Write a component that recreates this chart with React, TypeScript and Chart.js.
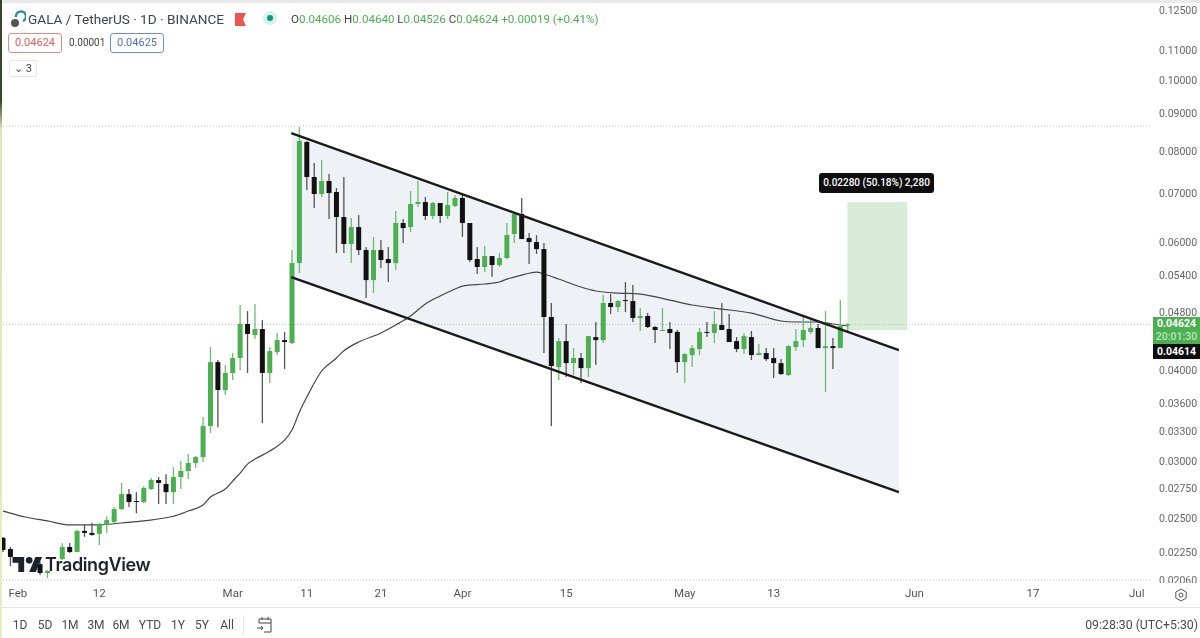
import { useEffect, useRef } from 'react';
import { Chart, registerables } from 'chart.js';

Chart.register(...registerables);

const opens = [
  0.02354, 0.02272, 0.02209, 0.02195, 0.02188, 0.02166, 0.02106, 0.02146, 0.02202, 0.02287, 0.02251, 0.02406, 0.02391, 0.02384, 0.02452,
  0.02475, 0.02578, 0.02703, 0.02645, 0.02636, 0.02747, 0.02826, 0.02791, 0.0272, 0.02853, 0.02908, 0.02982, 0.03039, 0.03352, 0.04104,
  0.03757, 0.03965, 0.04157, 0.0463, 0.04472, 0.04557, 0.03965, 0.04236, 0.044, 0.04359, 0.05614, 0.08233, 0.0737, 0.06984, 0.07278,
  0.07029, 0.06494, 0.05962, 0.06291, 0.0585, 0.0532, 0.0585, 0.05686, 0.05614, 0.06372, 0.06291, 0.06767, 0.0681, 0.06515, 0.06788,
  0.06515, 0.06725, 0.06897, 0.06372, 0.05686, 0.05544, 0.0574, 0.05579, 0.05704, 0.06154, 0.06556, 0.06076, 0.06, 0.05868, 0.04733,
  0.0404, 0.04386, 0.04091, 0.04157, 0.04027, 0.04442, 0.044, 0.04947, 0.04885, 0.04994, 0.04978, 0.04718, 0.04748, 0.04586, 0.04529,
  0.04557, 0.04515, 0.04104, 0.04196, 0.04277, 0.04515, 0.045, 0.04615, 0.04557, 0.04386, 0.04277, 0.04442, 0.04196, 0.04223, 0.04157,
  0.04091, 0.0394, 0.04304, 0.044, 0.04515, 0.04572, 0.0429, 0.04317, 0.0429, 0.04606,
];
const highs = [
  0.02361, 0.02287, 0.02216, 0.02202, 0.02195, 0.02181, 0.02126, 0.02216, 0.02315, 0.02315, 0.02413, 0.02452, 0.02467, 0.02467, 0.0252,
  0.02595, 0.028, 0.02747, 0.0272, 0.02773, 0.02844, 0.02853, 0.02879, 0.02944, 0.03001, 0.03068, 0.03049, 0.03449, 0.04304, 0.0413,
  0.04066, 0.04223, 0.04916, 0.04823, 0.04931, 0.04688, 0.04304, 0.045, 0.04515, 0.0585, 0.08633, 0.08259, 0.07704, 0.07777, 0.0744,
  0.07118, 0.0737, 0.06474, 0.06535, 0.05906, 0.06096, 0.06038, 0.05906, 0.06619, 0.06453, 0.07051, 0.07278, 0.06918, 0.0681, 0.06788,
  0.07029, 0.06962, 0.06962, 0.06372, 0.05906, 0.05925, 0.0574, 0.05795, 0.06372, 0.06598, 0.06897, 0.06173, 0.06134, 0.05981, 0.04947,
  0.04428, 0.0463, 0.0429, 0.04223, 0.04456, 0.04659, 0.05074, 0.0509, 0.04994, 0.05287, 0.05237, 0.04869, 0.04793, 0.04601, 0.04869,
  0.04659, 0.04543, 0.04223, 0.04331, 0.04572, 0.04659, 0.04823, 0.04947, 0.04778, 0.04442, 0.045, 0.04529, 0.04345, 0.0429, 0.0429,
  0.04143, 0.04331, 0.04557, 0.04733, 0.04688, 0.0463, 0.04823, 0.04428, 0.04994, 0.0464,
];
const lows = [
  0.02251, 0.02153, 0.02159, 0.02146, 0.0214, 0.02093, 0.02073, 0.02126, 0.02195, 0.02244, 0.02251, 0.02361, 0.02369, 0.02301, 0.02391,
  0.02467, 0.0257, 0.02595, 0.02545, 0.02628, 0.02738, 0.0262, 0.0262, 0.0262, 0.02747, 0.02835, 0.02935, 0.02991, 0.03279, 0.03341,
  0.03698, 0.03878, 0.04002, 0.03965, 0.04414, 0.03384, 0.03842, 0.04196, 0.04015, 0.04345, 0.0544, 0.07073, 0.06682, 0.06918, 0.06453,
  0.05795, 0.05795, 0.05614, 0.05758, 0.05026, 0.05106, 0.05526, 0.05287, 0.05491, 0.05981, 0.06193, 0.06703, 0.06433, 0.06453, 0.06372,
  0.06453, 0.06703, 0.06096, 0.05632, 0.05423, 0.05457, 0.05371, 0.05544, 0.05686, 0.05981, 0.06057, 0.05597, 0.05777, 0.04223, 0.03352,
  0.03878, 0.03915, 0.0394, 0.03842, 0.03915, 0.04066, 0.04359, 0.04778, 0.04808, 0.04808, 0.04659, 0.04529, 0.04572, 0.04359, 0.04529,
  0.04277, 0.03965, 0.03842, 0.0404, 0.04196, 0.04442, 0.04359, 0.04543, 0.04373, 0.04236, 0.04209, 0.0413, 0.04196, 0.04117, 0.03902,
  0.0394, 0.03927, 0.0425, 0.04304, 0.04486, 0.0429, 0.03733, 0.04015, 0.0429, 0.04526,
];
const closes = [
  0.02265, 0.02216, 0.02181, 0.02159, 0.02153, 0.02106, 0.0212, 0.02209, 0.02287, 0.02251, 0.02406, 0.02391, 0.02376, 0.02452, 0.0249,
  0.02578, 0.02703, 0.02636, 0.02636, 0.02756, 0.02826, 0.028, 0.0272, 0.02853, 0.02908, 0.02982, 0.03039, 0.03352, 0.04104, 0.03757,
  0.03965, 0.04157, 0.0463, 0.04486, 0.04557, 0.03965, 0.0425, 0.044, 0.04373, 0.05614, 0.08259, 0.0737, 0.06984, 0.07278, 0.07006,
  0.06494, 0.05962, 0.06291, 0.0585, 0.0532, 0.0585, 0.05668, 0.05614, 0.06372, 0.06271, 0.06767, 0.0681, 0.06515, 0.06788, 0.06515,
  0.06745, 0.06897, 0.06372, 0.05668, 0.05544, 0.0574, 0.05579, 0.05704, 0.06134, 0.06556, 0.06057, 0.06, 0.05868, 0.04733, 0.04053,
  0.04386, 0.04091, 0.04157, 0.04027, 0.04456, 0.044, 0.04947, 0.04885, 0.04978, 0.04978, 0.04718, 0.04748, 0.04586, 0.04543, 0.04543,
  0.045, 0.04104, 0.04209, 0.0429, 0.04515, 0.045, 0.0463, 0.04543, 0.04373, 0.04277, 0.04456, 0.04196, 0.04223, 0.04143, 0.04091,
  0.03952, 0.04317, 0.04386, 0.04543, 0.04572, 0.0429, 0.04317, 0.0429, 0.04601, 0.04624,
];

const maDays = [0, 3, 6, 9, 13, 16, 19, 23, 25, 27, 28, 30, 31, 32, 33, 34, 36, 38, 39, 40, 41, 43, 45, 46, 48, 51, 53, 55, 57, 59, 61, 62, 65, 67, 68, 70, 72, 73, 75, 78, 80, 83, 86, 90, 93, 97, 101, 105, 107, 110, 112, 114];
const maValues = [
  0.02562, 0.02514, 0.02483, 0.02452, 0.02452, 0.02467, 0.02483, 0.0252, 0.02562, 0.02611, 0.02678, 0.02747, 0.02817, 0.02889, 0.02972, 0.0302,
  0.03097, 0.03207, 0.0331, 0.03504, 0.03675, 0.0399, 0.04157, 0.04255, 0.04373, 0.045, 0.04615, 0.04748, 0.04931, 0.05058, 0.05171, 0.0522,
  0.05254, 0.05287, 0.05337, 0.05405, 0.05457, 0.05423, 0.05337, 0.05204, 0.05139, 0.05106, 0.0509, 0.04994, 0.04916, 0.04854, 0.04793, 0.04674,
  0.04659, 0.04659, 0.0463, 0.04601,
];

const channelDays = [38.9, 120.9];
const channelTop = [0.0847, 0.04263];
const channelBottom = [0.05371, 0.0272];

const targetDay = 118;
const targetRange = [0.04542, 0.0681];

const levelDays = [-0.4, 155.06];
const levelPrices = [0.0866, 0.04624, 0.0206];

const yTicks = [0.125, 0.11, 0.1, 0.09, 0.08, 0.07, 0.06, 0.054, 0.048, 0.04, 0.036, 0.033, 0.03, 0.0275, 0.025, 0.0225, 0.0206];
const xTickDays = [2, 13, 31, 41, 51, 62, 76, 92, 104, 123, 139, 153];
const xTickLabels = ['Feb', '12', 'Mar', '11', '21', 'Apr', '15', 'May', '13', 'Jun', '17', 'Jul'];
const rangeButtons: [string, number][] = [['1D', 20], ['5D', 45], ['1M', 70], ['3M', 96], ['6M', 121], ['YTD', 150], ['1Y', 178], ['5Y', 202], ['All', 227]];

const FONT = 'Roboto, sans-serif';
const GREEN = '#4caf50';
const BLACK = '#111';

const pairs = (xs: number[], ys: number[]) => xs.map((x, i) => ({ x, y: ys[i] }));
const flatLine = (price: number) => levelDays.map((x) => ({ x, y: price }));

function label(left: number, top: number, text: string, style: React.CSSProperties = {}) {
  return (
    <div style={{ position: 'absolute', left, top, whiteSpace: 'nowrap', ...style }}>{text}</div>
  );
}

export default function App() {
  const canvasRef = useRef<HTMLCanvasElement>(null);

  useEffect(() => {
    if (!canvasRef.current) return;
    const isUp = closes.map((c, i) => c >= opens[i]);
    const days = closes.map((_, i) => i);

    const chart = new Chart(canvasRef.current, {
      type: 'bar',
      data: {
        datasets: [
          // channel fill sits under the candles, its edges above them
          { type: 'line', data: pairs(channelDays, channelTop), fill: '+1', backgroundColor: '#eef1f5', borderWidth: 0, pointRadius: 0, order: 20 },
          { type: 'line', data: pairs(channelDays, channelBottom), borderWidth: 0, pointRadius: 0, order: 21 },
          {
            data: [{ x: targetDay, y: targetRange }],
            backgroundColor: '#d9ecda',
            grouped: false,
            barPercentage: 60 / 7.41,
            categoryPercentage: 1,
            order: 15,
          },
          ...levelPrices.map((p) => ({
            type: 'line',
            data: flatLine(p),
            borderColor: '#b9bcc0',
            borderWidth: 1,
            borderDash: [1, 2],
            pointRadius: 0,
            order: 12,
          })),
          {
            type: 'line',
            data: pairs(maDays, maValues),
            borderColor: '#454545',
            borderWidth: 1.2,
            pointRadius: 0,
            cubicInterpolationMode: 'monotone',
            order: 10,
          },
          {
            data: days.map((d) => ({ x: d, y: [lows[d], highs[d]] })),
            backgroundColor: isUp.map((u) => (u ? '#6dbb72' : '#555')),
            grouped: false,
            barPercentage: 1.3 / 7.41,
            categoryPercentage: 1,
            order: 6,
          },
          {
            data: days.map((d) => ({ x: d, y: [opens[d], closes[d]] })),
            backgroundColor: isUp.map((u) => (u ? GREEN : BLACK)),
            grouped: false,
            barPercentage: 5 / 7.41,
            categoryPercentage: 1,
            order: 5,
          },
          { type: 'line', data: pairs(channelDays, channelTop), borderColor: '#1a1a1a', borderWidth: 2.4, pointRadius: 0, order: 1 },
          { type: 'line', data: pairs(channelDays, channelBottom), borderColor: '#1a1a1a', borderWidth: 2.4, pointRadius: 0, order: 1 },
        ] as any,
      },
      options: {
        responsive: false,
        animation: false,
        layout: { padding: { top: 4, bottom: 38, left: 0, right: 0 } },
        plugins: { legend: { display: false }, tooltip: { enabled: false } },
        scales: {
          x: {
            type: 'linear',
            offset: false,
            min: -0.405,
            max: 155.06,
            grid: { display: false, drawTicks: false },
            border: { display: false },
            afterFit: (s: any) => {
              s.height = 18;
              s.paddingLeft = 0;
              s.paddingRight = 0;
            },
            afterBuildTicks: (s: any) => {
              s.ticks = xTickDays.map((value) => ({ value }));
            },
            ticks: {
              autoSkip: false,
              maxRotation: 0,
              padding: 5,
              color: '#555',
              font: { family: FONT, size: 11.5 },
              callback: (v: any) => xTickLabels[xTickDays.indexOf(Number(v))] ?? '',
            },
          },
          y: {
            type: 'logarithmic',
            position: 'right',
            min: 0.02047,
            max: 0.1274,
            grid: { display: false, drawTicks: false },
            border: { display: false },
            afterFit: (s: any) => {
              // tick labels near the ends must not push the plot area in
              s.width = 48;
              s.paddingTop = 0;
              s.paddingBottom = 0;
            },
            afterBuildTicks: (s: any) => {
              s.ticks = yTicks.map((value) => ({ value }));
            },
            ticks: {
              autoSkip: false,
              padding: 7,
              labelOffset: 1,
              color: '#666',
              font: { family: FONT, size: 10.5 },
              callback: (v: any) => Number(v).toFixed(5),
            },
          },
        },
      } as any,
    });

    return () => chart.destroy();
  }, []);

  const greenText: React.CSSProperties = { color: '#4caf50' };
  const legendFont: React.CSSProperties = { fontFamily: FONT, fontSize: 11.6, lineHeight: '16px' };

  return (
    <div style={{ position: 'absolute', left: 0, top: 0, width: 1200, height: 638, background: '#fff', overflow: 'hidden', fontFamily: FONT }}>
      <canvas ref={canvasRef} width={1200} height={638} style={{ position: 'absolute', left: 0, top: 0, display: 'block' }} />

      {/* page edges */}
      <div style={{ position: 'absolute', left: 0, top: 0, width: 1200, height: 3, background: '#e9e9e9' }} />
      <div style={{ position: 'absolute', left: 0, top: 0, width: 1.5, height: 638, background: 'linear-gradient(#39452a 0, #39452a 100px, #dfe6b8 130px, #e6ecc4 100%)' }} />
      <div style={{ position: 'absolute', left: 0, top: 607, width: 1200, height: 1, background: '#e3e5ea' }} />

      {/* header */}
      <svg style={{ position: 'absolute', left: 10, top: 10 }} width={16} height={18} viewBox="0 0 16 18">
        <circle cx="5" cy="13" r="4" fill="#555" />
        <path d="M6 7 A5 5 0 1 1 13 11" fill="none" stroke="#2a8d9c" strokeWidth="2.4" />
      </svg>
      {label(28, 10, 'GALA / TetherUS · 1D · BINANCE', { fontSize: 13.6, lineHeight: '18px', color: '#3f4350' })}
      <svg style={{ position: 'absolute', left: 235, top: 13 }} width={11} height={13} viewBox="0 0 11 13">
        <path d="M0 0H11L8 6.5L11 13H0Z" fill="#ef5350" />
      </svg>
      <div style={{ position: 'absolute', left: 263, top: 11, width: 14, height: 14, borderRadius: 7, background: '#d9f0ec' }} />
      <div style={{ position: 'absolute', left: 267, top: 15, width: 6, height: 6, borderRadius: 3, background: '#089981' }} />
      <div style={{ position: 'absolute', left: 291, top: 11, whiteSpace: 'nowrap', ...legendFont, color: '#3f4350' }}>
        O<span style={greenText}>0.04606</span>{' '}
        H<span style={greenText}>0.04640</span>{' '}
        L<span style={greenText}>0.04526</span>{' '}
        C<span style={greenText}>0.04624</span>{' '}
        <span style={greenText}>+0.00019 (+0.41%)</span>
      </div>

      <div style={{ position: 'absolute', left: 8, top: 33, width: 54, height: 20, boxSizing: 'border-box', border: '1px solid #e88a88', borderRadius: 3, background: '#fff', color: '#e25f5c', fontSize: 11, lineHeight: '18px', textAlign: 'center' }}>0.04624</div>
      {label(69, 36, '0.00001', { fontSize: 10, lineHeight: '14px', color: '#444' })}
      <div style={{ position: 'absolute', left: 110, top: 33, width: 54, height: 20, boxSizing: 'border-box', border: '1px solid #6f8ccf', borderRadius: 3, background: '#fff', color: '#4f74c5', fontSize: 11, lineHeight: '18px', textAlign: 'center' }}>0.04625</div>
      <div style={{ position: 'absolute', left: 9, top: 60, width: 28, height: 17, boxSizing: 'border-box', border: '1px solid #e6e6e6', borderRadius: 2, color: '#444', fontSize: 11, lineHeight: '15px', textAlign: 'center' }}>⌄ 3</div>

      {/* watermark, opaque behind the mark like the original */}
      <div style={{ position: 'absolute', left: 13, top: 556, width: 24, height: 16, background: '#fff' }} />
      <div style={{ position: 'absolute', left: 50, top: 556, width: 9, height: 15, background: '#fff' }} />
      <svg style={{ position: 'absolute', left: 12, top: 557 }} width={31} height={15} viewBox="0 0 36 18">
        <path d="M14 18H7V7H0V0h14v18zM28 18h-8L27.5 0h8L28 18z" fill="#1e222d" />
        <circle cx="20" cy="4" r="4" fill="#1e222d" />
      </svg>
      {label(45, 553, 'TradingView', { fontFamily: 'Inter, sans-serif', fontSize: 18, fontWeight: 600, lineHeight: '24px', color: '#1e222d', letterSpacing: -0.4 })}

      {/* target tag */}
      <div style={{ position: 'absolute', left: 819, top: 173, width: 115, height: 20, borderRadius: 3, background: '#0e0e0e', color: '#fff', fontSize: 10, fontWeight: 500, lineHeight: '20px', textAlign: 'center' }}>0.02280 (50.18%) 2,280</div>

      {/* price scale tags */}
      <div style={{ position: 'absolute', left: 1153, top: 317, width: 47, height: 27, background: GREEN, color: '#fff', fontSize: 10.5, fontWeight: 700, lineHeight: '13px', textAlign: 'center' }}>
        0.04624<br />
        <span style={{ color: '#bfe5c1', fontWeight: 500 }}>20:01:30</span>
      </div>
      <div style={{ position: 'absolute', left: 1153, top: 344, width: 47, height: 15, background: '#0c0c0c', color: '#fff', fontSize: 10.5, fontWeight: 700, lineHeight: '16px', textAlign: 'center' }}>0.04614</div>

      {/* settings corner, hides the clipped bottom tick */}
      <div style={{ position: 'absolute', left: 1153, top: 583, width: 47, height: 23, background: '#fff' }} />
      <svg style={{ position: 'absolute', left: 1174, top: 588 }} width={14} height={14} viewBox="0 0 14 14">
        <path d="M7 1L12.2 4V10L7 13L1.8 10V4Z" fill="none" stroke="#555" strokeWidth="1" />
        <circle cx="7" cy="7" r="2" fill="none" stroke="#555" strokeWidth="1" />
      </svg>

      {/* range bar */}
      {rangeButtons.map(([text, x]) => (
        <div key={text} style={{ position: 'absolute', left: x - 20, top: 617, width: 40, textAlign: 'center', fontSize: 12, lineHeight: '16px', color: '#4a4a4a' }}>{text}</div>
      ))}
      <div style={{ position: 'absolute', left: 243, top: 615, width: 1, height: 21, background: '#e3e5ea' }} />
      <svg style={{ position: 'absolute', left: 256, top: 616 }} width={17} height={17} viewBox="0 0 17 17">
        <path d="M3 7V3H15V16H8M3 7H15M6 1V4M12 1V4M1 12H7M5 10L7 12L5 14" fill="none" stroke="#444" strokeWidth="1" />
      </svg>
      <div style={{ position: 'absolute', right: 2, top: 616, fontSize: 12.3, lineHeight: '18px', color: '#4a4a4a', whiteSpace: 'nowrap' }}>09:28:30 (UTC+5:30)</div>
    </div>
  );
}
